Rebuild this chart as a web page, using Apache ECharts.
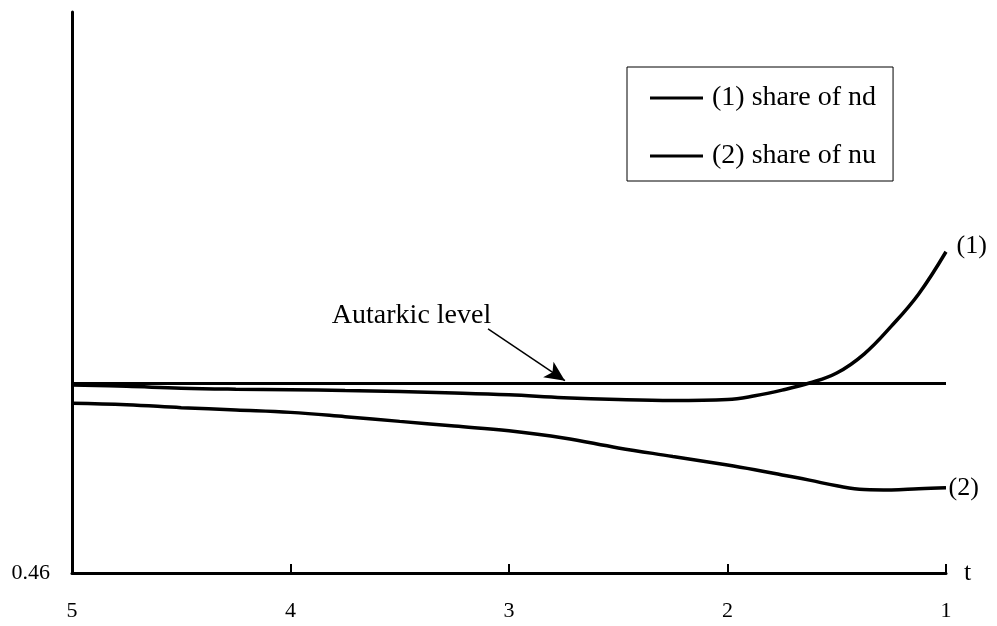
<!DOCTYPE html>
<html>
<head>
<meta charset="utf-8">
<script src="https://cdn.jsdelivr.net/npm/echarts@6/dist/echarts.min.js"></script>
<style>html,body{margin:0;padding:0;background:#fff}#c{width:997px;height:626px}</style>
</head>
<body>
<div id="c"></div>
<script>
const tValues = [5, 4.75, 4.5, 4.25, 4, 3.75, 3.5, 3.25, 3, 2.75, 2.5, 2.25, 2, 1.875, 1.75, 1.625, 1.5, 1.375, 1.25, 1.125, 1];
const shareND = [0.4997, 0.4994, 0.4990, 0.4988, 0.4987, 0.4985, 0.4983, 0.4980, 0.4976, 0.4970, 0.4966, 0.4964, 0.4966, 0.4974, 0.4986, 0.5001, 0.5022, 0.5062, 0.5121, 0.5189, 0.5278];
const shareNU = [0.4958, 0.4955, 0.4949, 0.4944, 0.4939, 0.4930, 0.4920, 0.4910, 0.4900, 0.4885, 0.4864, 0.4846, 0.4828, 0.4818, 0.4807, 0.4796, 0.4784, 0.4776, 0.4775, 0.4778, 0.4780];
const autarkicT = [5, 1];
const autarkicLevel = [0.5, 0.5];
const xTicks = [5, 4, 3, 2, 1];
const yTickLabel = 0.46;
const seriesNames = ['(1) share of nd', '(2) share of nu'];
const endTags = ['(1)', '(2)'];

const FONT = 'Liberation Serif';
const zip = (xs, ys) => xs.map((x, i) => [x, ys[i]]);
const last = a => a[a.length - 1];

function endTag(text, xs, ys, dist, dy) {
  return {
    silent: true, symbol: 'circle', symbolSize: 1,
    itemStyle: { color: 'rgba(0,0,0,0)' },
    label: { show: true, position: 'right', distance: dist, offset: [0, dy], formatter: text,
      fontFamily: FONT, fontSize: 26, color: '#000' },
    data: [{ coord: [last(xs), last(ys)] }]
  };
}

const chart = echarts.init(document.getElementById('c'));
chart.setOption({
  animation: false,
  textStyle: { fontFamily: FONT, color: '#000' },
  grid: { left: 72, right: 51, top: 12, bottom: 53 },
  legend: {
    data: seriesNames,
    orient: 'vertical',
    left: 627, top: 67,
    padding: [17, 17, 11, 23],
    itemGap: 30,
    itemWidth: 53, itemHeight: 3,
    icon: 'rect',
    borderColor: '#000', borderWidth: 1,
    textStyle: { fontFamily: FONT, fontSize: 28, color: '#000', padding: [0, 0, 0, 4] }
  },
  xAxis: {
    type: 'value', min: 1, max: 5, interval: 1, inverse: true,
    name: 't', nameLocation: 'start', nameGap: 18,
    nameTextStyle: { fontFamily: FONT, fontSize: 26, color: '#000', verticalAlign: 'middle', padding: [24, 0, 0, 0] },
    axisLine: { show: true, lineStyle: { color: '#000', width: 3 } },
    axisTick: { show: true, inside: true, length: 9, lineStyle: { color: '#000', width: 2 } },
    axisLabel: { fontFamily: FONT, fontSize: 22, color: '#000', margin: 27,
      formatter: v => xTicks.includes(v) ? String(v) : '' },
    splitLine: { show: false }
  },
  yAxis: {
    type: 'value', min: 0.46, max: 0.5784, interval: 0.02,
    axisLine: { show: true, lineStyle: { color: '#000', width: 3 } },
    axisTick: { show: false },
    axisLabel: { fontFamily: FONT, fontSize: 22, color: '#000', margin: 22, showMaxLabel: false,
      formatter: v => Math.abs(v - yTickLabel) < 1e-6 ? yTickLabel.toFixed(2) : '' },
    splitLine: { show: false }
  },
  series: [
    {
      name: 'Autarkic level', type: 'line', data: zip(autarkicT, autarkicLevel),
      symbol: 'none', lineStyle: { color: '#000', width: 3 }, z: 3,
      markLine: {
        silent: true, symbol: ['none', 'arrow'], symbolSize: [14, 20],
        lineStyle: { color: '#000', width: 1.5, type: 'solid' },
        label: { show: false },
        data: [[{ coord: [3.096, 0.5115] }, { coord: [2.744, 0.5006] }]]
      },
      markPoint: {
        silent: true, symbol: 'circle', symbolSize: 1,
        itemStyle: { color: 'rgba(0,0,0,0)' },
        label: { show: true, position: 'inside', formatter: 'Autarkic level',
          fontFamily: FONT, fontSize: 28, color: '#000' },
        data: [{ coord: [3.446, 0.5144] }]
      }
    },
    {
      name: seriesNames[0], type: 'line', data: zip(tValues, shareND), smooth: 0.4,
      symbol: 'none', color: '#000', lineStyle: { color: '#000', width: 3.5 },
      markPoint: endTag(endTags[0], tValues, shareND, 10, -6)
    },
    {
      name: seriesNames[1], type: 'line', data: zip(tValues, shareNU), smooth: 0.4,
      symbol: 'none', color: '#000', lineStyle: { color: '#000', width: 3.5 },
      markPoint: endTag(endTags[1], tValues, shareNU, 2, 0)
    }
  ]
});
</script>
</body>
</html>
